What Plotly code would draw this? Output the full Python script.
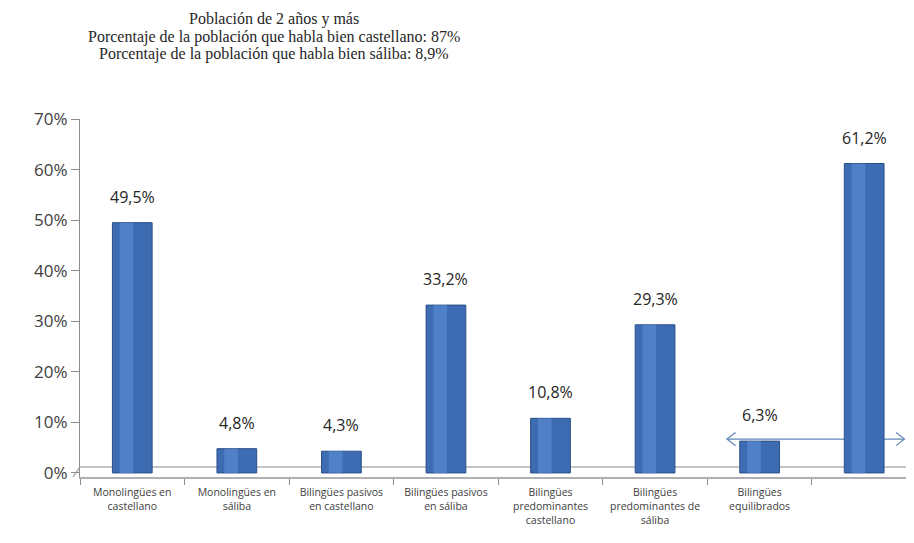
import plotly.graph_objects as go

categories = [
    "Monolingües en<br>castellano",
    "Monolingües en<br>sáliba",
    "Bilingües pasivos<br>en castellano",
    "Bilingües pasivos<br>en sáliba",
    "Bilingües<br>predominantes<br>castellano",
    "Bilingües<br>predominantes de<br>sáliba",
    "Bilingües<br>equilibrados",
    " ",
]
values = [49.5, 4.8, 4.3, 33.2, 10.8, 29.3, 6.3, 61.2]
value_labels = ["49,5%", "4,8%", "4,3%", "33,2%", "10,8%", "29,3%", "6,3%", "61,2%"]
title_lines = [
    "Población de 2 años y más",
    "Porcentaje de la población que habla bien castellano: 87%",
    "Porcentaje de la población que habla bien sáliba: 8,9%",
]

fig = go.Figure()
fig.add_trace(go.Bar(
    x=categories, y=values, width=0.38,
    marker=dict(color="#3d6cb3", line=dict(color="#2b4f88", width=1)),
    hoverinfo="skip", showlegend=False,
))
fig.add_trace(go.Bar(
    x=categories, y=values, width=0.13, offset=-0.12,
    marker=dict(color="#5d8fd6", line=dict(width=0)),
    opacity=0.6, hoverinfo="skip", showlegend=False,
))

for c, v, t in zip(categories, values, value_labels):
    fig.add_annotation(x=c, y=v, text=t, showarrow=False, yshift=26,
                       font=dict(family="Open Sans", size=16, color="#262626"))

W_FIG = 898
L_MARGIN = 72
T_MARGIN = 111
H_PLOT = 358
W_PLOT = W_FIG - L_MARGIN
for line, ypx in zip(title_lines, [11, 29, 46]):
    fig.add_annotation(
        x=(266 - L_MARGIN) / W_PLOT, y=1 + (T_MARGIN - ypx) / H_PLOT,
        xref="paper", yref="paper",
        xanchor="center", yanchor="middle", showarrow=False, text=line,
        font=dict(family="Liberation Serif", size=16, color="#262626"),
    )

arrow_col = "#5f86b8"
floor_col = "#b0b0b0"
shapes = [
    dict(type="line", xref="paper", yref="y", x0=0, x1=1, y0=1.2, y1=1.2,
         line=dict(color=floor_col, width=1.5), layer="below"),
    dict(type="line", xref="paper", yref="y", x0=0, x1=-7 / W_PLOT, y0=1.2, y1=-0.8,
         line=dict(color=floor_col, width=1.5), layer="below"),
    dict(type="line", xref="x", yref="y", x0=5.687, x1=7.385, y0=6.7, y1=6.7,
         line=dict(color=arrow_col, width=1.2), layer="below"),
    dict(type="path", xref="x", yref="y",
         path="M 5.77,8.0 L 5.687,6.7 L 5.77,5.4",
         line=dict(color=arrow_col, width=1.2), layer="below"),
    dict(type="path", xref="x", yref="y",
         path="M 7.305,8.0 L 7.385,6.7 L 7.305,5.4",
         line=dict(color=arrow_col, width=1.2), layer="below"),
]

fig.update_layout(
    width=W_FIG, height=527,
    margin=dict(l=L_MARGIN, r=0, t=T_MARGIN, b=527 - T_MARGIN - H_PLOT),
    paper_bgcolor="white", plot_bgcolor="white",
    barmode="overlay",
    shapes=shapes,
    xaxis=dict(
        type="category", range=[-0.5, 7.4],
        showline=True, linecolor=floor_col, linewidth=1.5,
        ticks="outside", tickson="boundaries", ticklen=6, tickcolor="#8c8c8c",
        tickfont=dict(family="Open Sans", size=10.5, color="#404040"),
        ticklabelstandoff=5,
        showgrid=False, tickangle=0, automargin=False,
    ),
    yaxis=dict(
        range=[-0.8, 70], dtick=10, tick0=0, ticksuffix="%",
        showline=True, linecolor="#8c8c8c", linewidth=1,
        ticks="outside", ticklen=8, tickcolor="#8c8c8c",
        tickfont=dict(family="Open Sans", size=17, color="#404040"),
        showgrid=False, zeroline=False, automargin=False,
    ),
)

fig.write_html("out.html")
